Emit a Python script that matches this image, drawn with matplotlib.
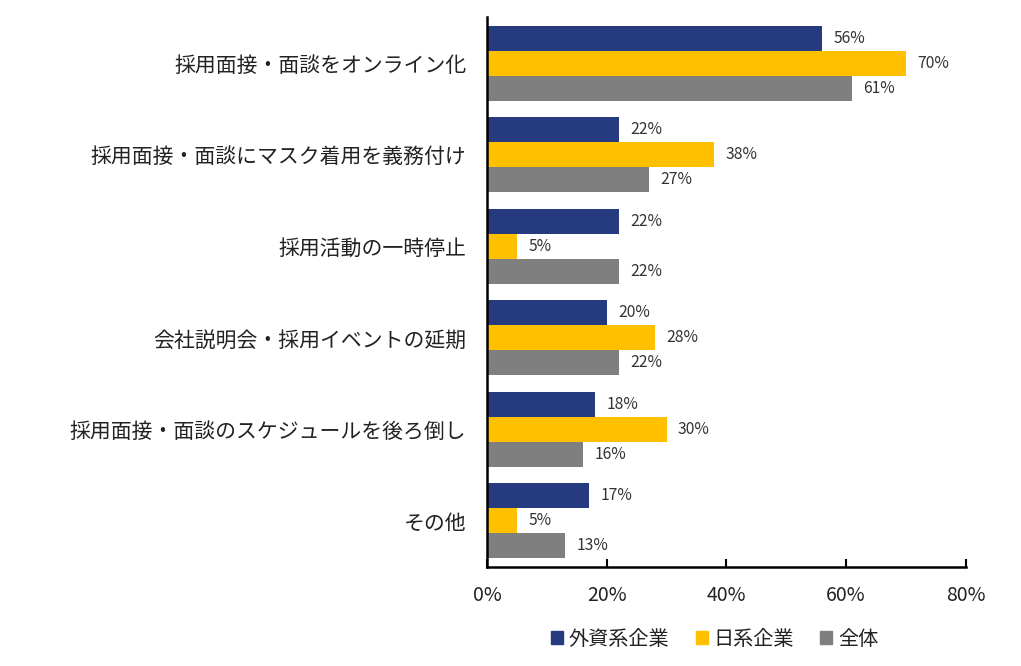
import matplotlib
matplotlib.use("Agg")
import matplotlib.pyplot as plt
import numpy as np
from matplotlib.patches import Patch

plt.rcParams['font.family'] = ['Noto Sans CJK JP', 'DejaVu Sans']

categories = ["採用面接・面談をオンライン化",
              "採用面接・面談にマスク着用を義務付け",
              "採用活動の一時停止",
              "会社説明会・採用イベントの延期",
              "採用面接・面談のスケジュールを後ろ倒し",
              "その他"]
series_names = ["外資系企業", "日系企業", "全体"]
foreign = [56, 22, 22, 20, 18, 17]
japanese = [70, 38, 5, 28, 30, 5]
total = [61, 27, 22, 22, 16, 13]
colors = ["#253A7F", "#FFC000", "#7F7F7F"]
xticks = [0, 20, 40, 60, 80]

fig = plt.figure(figsize=(10.21, 6.66), dpi=100)
ax = fig.add_axes([0.477, 0.149, 0.469, 0.825])

n = len(categories)
y = np.arange(n)
h = 0.273
for i, (vals, c) in enumerate(zip([foreign, japanese, total], colors)):
    pos = y + (i - 1) * h
    ax.barh(pos, vals, height=h, color=c, label=series_names[i])
    for p, v in zip(pos, vals):
        ax.text(v + 1.9, p, f"{v}%", va='center', ha='left', fontsize=11.3, color='#333333')

ax.set_ylim(n - 0.5, -0.5)
ax.set_xlim(0, 80)
ax.set_yticks(y)
ax.set_yticklabels(categories, fontsize=15, color='#222222')
ax.set_xticks(xticks)
ax.set_xticklabels([f"{t}%" for t in xticks], fontsize=14, color='#222222')
ax.tick_params(axis='y', length=0, pad=15)
ax.tick_params(axis='x', direction='in', length=6, width=1.5, pad=13)
for s in ['top', 'right']:
    ax.spines[s].set_visible(False)
ax.spines['left'].set_linewidth(1.8)
ax.spines['bottom'].set_linewidth(1.8)

handles = [Patch(color=c, label=l) for c, l in zip(colors, series_names)]
fig.legend(handles=handles, loc='center', bbox_to_anchor=(0.70, 0.040), ncol=3,
           frameon=False, fontsize=14.5, handlelength=0.6, handleheight=0.6,
           handletextpad=0.3, columnspacing=1.3, labelcolor='#222222')

fig.savefig("out.png", dpi=100)
